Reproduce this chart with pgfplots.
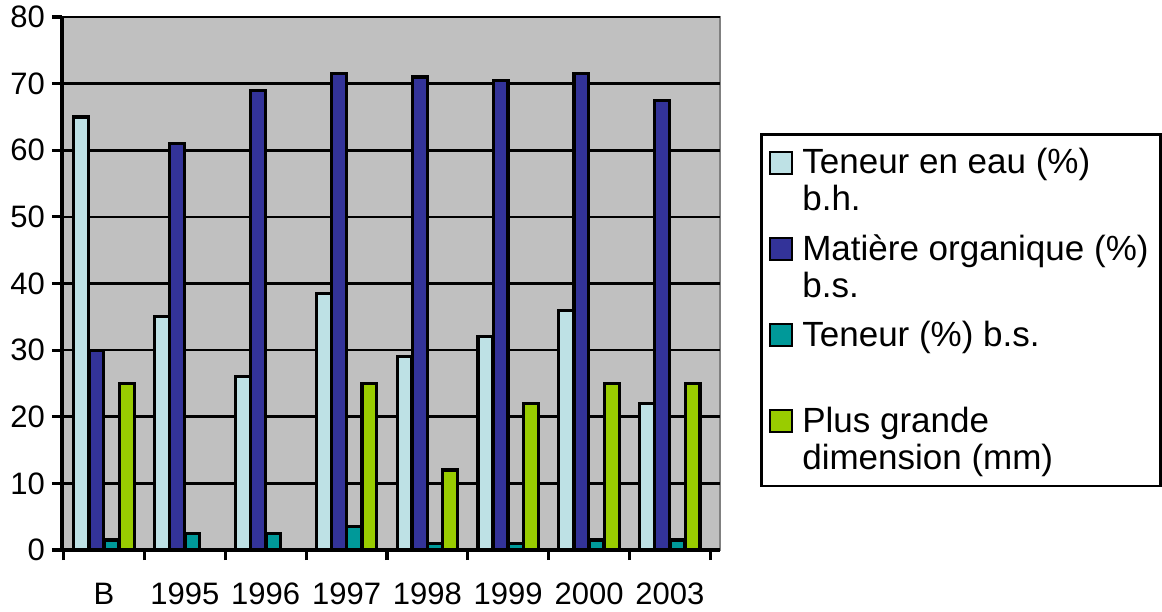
\documentclass[border=0pt]{standalone}
\usepackage{fontspec}
\setmainfont{Liberation Sans}
\usepackage{pgfplots}
\pgfplotsset{compat=1.18}
\definecolor{eau}{HTML}{BEE1E5}
\definecolor{mo}{HTML}{333399}
\definecolor{ten}{HTML}{009999}
\definecolor{dim}{HTML}{99CC00}
\definecolor{fond}{HTML}{C0C0C0}

\begin{document}
\begin{tikzpicture}
\begin{axis}[
  at={(0,0)}, anchor=south west,
  scale only axis, width=329pt, height=266.5pt,
  xmin=-0.52, xmax=7.62, ymin=0, ymax=80,
  axis lines=left, axis line style={-, line width=1.6pt, black},
  axis background/.style={fill=fond, draw=gray, line width=1pt},
  ybar=0.2pt, bar width=7.4pt,
  ytick={0,10,...,80},
  xtick={0,...,7},
  xticklabels={B,1995,1996,1997,1998,1999,2000,2003},
  major x tick style={draw=none},
  minor xtick={-0.5,0.5,...,7.5},
  tick align=outside, major tick length=5pt, minor tick length=5pt,
  tick style={black, line width=1.6pt},
  ymajorgrids, grid style={black, line width=1.3pt},
  ticklabel style={font=\fontsize{15.5}{18}\selectfont},
  xticklabel style={yshift=-8pt},
  /pgf/number format/assume math mode=true,
  legend image code/.code={\draw[#1, line width=1pt] (0pt,18.5pt) rectangle (11pt,29.5pt);
    \path[draw=none, fill=none] (0pt,20pt) -- (14pt,20pt);},
  legend style={at={(1.061,0.782)}, anchor=north west, draw=black, line width=1.2pt,
    fill=white, font=\fontsize{17.5}{18.5}\selectfont, row sep=6.3pt,
    inner xsep=4pt, inner ysep=5pt,
    nodes={anchor=base west, align=left}},
]
\addplot[fill=eau, draw=black, line width=1.6pt] coordinates {(0,65) (1,35) (2,26) (3,38.5) (4,29) (5,32) (6,36) (7,22)};
\addplot[fill=mo, draw=black, line width=1.6pt] coordinates {(0,30) (1,61) (2,69) (3,71.5) (4,71) (5,70.5) (6,71.5) (7,67.5)};
\addplot[fill=ten, draw=black, line width=1.6pt] coordinates {(0,1.5) (1,2.5) (2,2.5) (3,3.5) (4,1) (5,1) (6,1.5) (7,1.5)};
\addplot[fill=dim, draw=black, line width=1.6pt] coordinates {(0,25) (3,25) (4,12) (5,22) (6,25) (7,25)};
\legend{Teneur en eau (\%)\\b.h., Matière organique (\%)\\b.s., Teneur (\%) b.s.\\\strut, Plus grande\\dimension (mm)}
\end{axis}
\pgfresetboundingbox
\path (-31pt,-30.5pt) rectangle (550pt,275pt);
\end{tikzpicture}
\end{document}
